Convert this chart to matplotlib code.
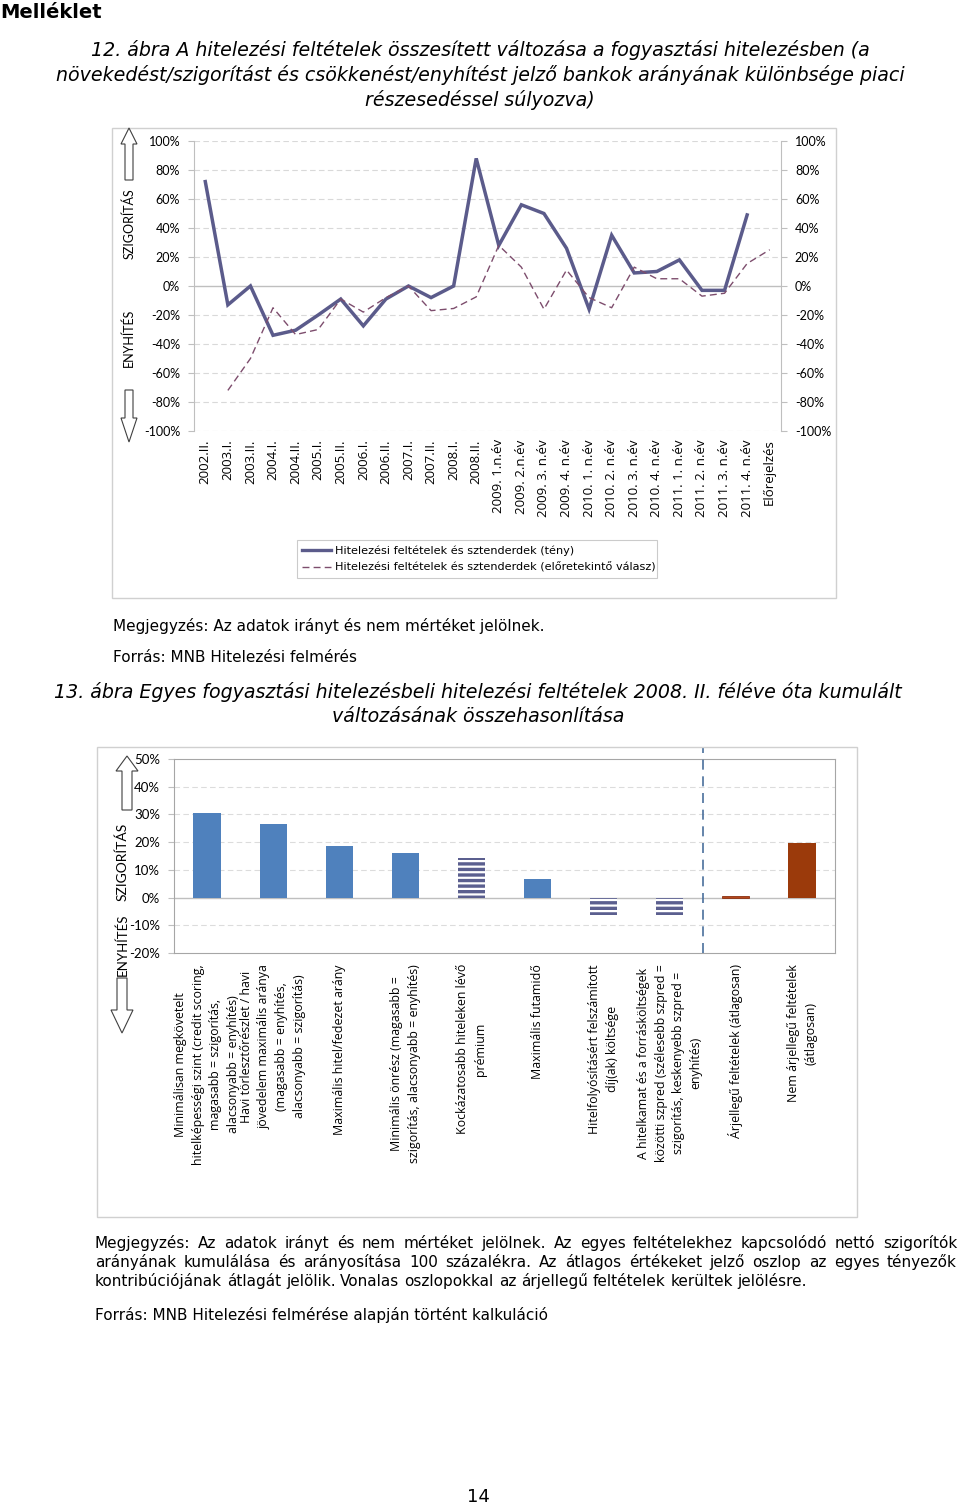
import numpy as np
import matplotlib
matplotlib.use("Agg")
import matplotlib.pyplot as plt
from matplotlib.patches import Polygon, Rectangle
from matplotlib.lines import Line2D

# --- data: chart 12 ---
periods = ["2002.II.", "2003.I.", "2003.II.", "2004.I.", "2004.II.", "2005.I.",
           "2005.II.", "2006.I.", "2006.II.", "2007.I.", "2007.II.", "2008.I.",
           "2008.II.", "2009. 1.n.év", "2009. 2.n.év", "2009. 3. n.év",
           "2009. 4. n.év", "2010. 1. n.év", "2010. 2. n.év", "2010. 3. n.év",
           "2010. 4. n.év", "2011. 1. n.év", "2011. 2. n.év", "2011. 3. n.év",
           "2011. 4. n.év", "Előrejelzés"]
actual = [72, -13, 0, -34, -30.5, -20, -9, -27.5, -9, 0, -8, 0, 88, 28, 56, 50,
          26, -16, 35, 9, 10, 18, -3, -3, 49, np.nan]
expected = [np.nan, -72, -50, -15, -33.5, -30, -9, -18, -8, 0, -17, -15.5, -7.5,
            28, 13, -16, 11, -8, -15, 13, 5, 5, -7, -5, 15.5, 25]
label_actual = "Hitelezési feltételek és sztenderdek (tény)"
label_expected = "Hitelezési feltételek és sztenderdek (előretekintő válasz)"

# --- data: chart 13 ---
conditions = [
    "Minimálisan megkövetelt\nhitelképességi szint (credit scoring,\nmagasabb = szigorítás,\nalacsonyabb = enyhítés)",
    "Havi törlesztőrészlet / havi\njövedelem maximális aránya\n(magasabb = enyhítés,\nalacsonyabb = szigorítás)",
    "Maximális hitel/fedezet arány",
    "Minimális önrész (magasabb =\nszigorítás, alacsonyabb = enyhítés)",
    "Kockázatosabb hiteleken lévő\nprémium",
    "Maximális futamidő",
    "Hitelfolyósításért felszámított\ndíj(ak) költsége",
    "A hitelkamat és a forrásköltségek\nközötti szpred (szélesebb szpred =\nszigorítás, keskenyebb szpred =\nenyhítés)",
    "Árjellegű feltételek (átlagosan)",
    "Nem árjellegű feltételek\n(átlagosan)",
]
cumulative = [30.4, 26.6, 18.7, 16.2, 14.4, 6.6, -6.3, -6.3, 0.6, 19.8]
bar_kind = ["plain", "plain", "plain", "plain", "price", "plain", "price", "price",
            "avg_price", "avg_other"]

W, H = 960, 1507
fig = plt.figure(figsize=(W / 100, H / 100), dpi=100)
plt.rcParams["hatch.linewidth"] = 2.4
BODY = "DejaVu Sans"
CHART = "Lato"
TXT = 11


def fx(x):
    return x / W


def fy(y):
    return 1 - y / H


def box(x0, y0, x1, y1):
    return [x0 / W, 1 - y1 / H, (x1 - x0) / W, (y1 - y0) / H]


def arrow(cx, top, bottom, up, hw=8, sw=4, head=16):
    if up:
        pts = [(cx, top), (cx + hw, top + head), (cx + sw, top + head), (cx + sw, bottom),
               (cx - sw, bottom), (cx - sw, top + head), (cx - hw, top + head)]
    else:
        pts = [(cx, bottom), (cx + hw, bottom - head), (cx + sw, bottom - head), (cx + sw, top),
               (cx - sw, top), (cx - sw, bottom - head), (cx - hw, bottom - head)]
    pts = [(fx(a), fy(b)) for a, b in pts]
    fig.patches.append(Polygon(pts, closed=True, transform=fig.transFigure,
                               facecolor="white", edgecolor="#404040", lw=0.8))


def frame(x0, y0, x1, y1):
    fig.patches.append(Rectangle((fx(x0), fy(y1)), (x1 - x0) / W, (y1 - y0) / H,
                                 transform=fig.transFigure, fill=False,
                                 edgecolor="#d0d0d0", lw=1))


def justified(text, y, x0, x1, size, last=False):
    # lay words out one by one so the line fills x0..x1 (like a justified paragraph)
    words = text.split()
    r = fig.canvas.get_renderer()
    objs = [fig.text(0, fy(y + 4), w, fontsize=size, family=BODY, va="baseline")
            for w in words]
    widths = [o.get_window_extent(r).width for o in objs]
    if last:
        t1 = fig.text(0, 0, "a a", fontsize=size, family=BODY)
        t2 = fig.text(0, 0, "aa", fontsize=size, family=BODY)
        gap = t1.get_window_extent(r).width - t2.get_window_extent(r).width
        t1.remove()
        t2.remove()
    else:
        gap = (x1 - x0 - sum(widths)) / (len(words) - 1)
    x = x0
    for o, w in zip(objs, widths):
        o.set_x(fx(x))
        x += w + gap


# --- headings ---
fig.text(fx(0), fy(12), "Melléklet", fontsize=14, weight="bold", family=BODY, va="center")
fig.text(fx(480), fy(75),
         "12. ábra A hitelezési feltételek összesített változása a fogyasztási hitelezésben (a\n"
         "növekedést/szigorítást és csökkenést/enyhítést jelző bankok arányának különbsége piaci\n"
         "részesedéssel súlyozva)",
         fontsize=13.7, style="italic", family=BODY, ha="center", va="center", linespacing=1.3)

# --- chart 12 ---
frame(112, 128, 836, 598)
ax = fig.add_axes(box(194, 141, 781, 431))
x = np.arange(len(periods))
ax.plot(x, actual, color="#5b5b8b", lw=2.5, solid_joinstyle="miter")
ax.plot(x, expected, color="#7d4d6d", lw=1.0, dashes=(5, 3))
ax.set_xlim(-0.5, len(periods) - 0.5)
ax.set_ylim(-100, 100)
ticks = np.arange(-100, 101, 20)
ax.set_yticks(ticks)
ax.set_yticklabels([f"{t}%" for t in ticks])
ax.yaxis.set_ticks_position("both")
ax.tick_params(axis="y", labelright=True, direction="out", length=4, color="#bfbfbf",
               labelsize=9, pad=6)
for lab in ax.get_yticklabels():
    lab.set_family(CHART)
ax.set_xticks(x)
ax.set_xticklabels(periods, rotation=90, fontsize=9.5, family="Open Sans")
ax.tick_params(axis="x", length=0, pad=6)
for t in ticks:
    if t != 0:
        ax.axhline(t, color="#d9d9d9", lw=0.8, dashes=(5, 3), zorder=0)
ax.axhline(0, color="#bfbfbf", lw=1, zorder=1)
for s in ("top", "bottom"):
    ax.spines[s].set_visible(False)
for s in ("left", "right"):
    ax.spines[s].set_color("#bfbfbf")

arrow(129, 128, 180, up=True)
arrow(129, 390, 442, up=False, head=24)
fig.text(fx(129), fy(224), "SZIGORÍTÁS", rotation=90, fontsize=9, family=CHART,
         ha="center", va="center")
fig.text(fx(129), fy(338), "ENYHÍTÉS", rotation=90, fontsize=9, family=CHART,
         ha="center", va="center")

handles = [Line2D([], [], color="#5b5b8b", lw=2.4),
           Line2D([], [], color="#7d4d6d", lw=1.0, dashes=(5, 3))]
leg = fig.legend(handles, [label_actual, label_expected], loc="upper left",
                 bbox_to_anchor=(fx(297), fy(583), 360 / W, 43 / H), mode="expand",
                 prop={"family": BODY, "size": 8.1}, fancybox=False, edgecolor="#bfbfbf",
                 handlelength=2.6, handletextpad=0.3, borderaxespad=0, labelspacing=0.6,
                 borderpad=0.45)
leg.get_frame().set_linewidth(0.8)

fig.text(fx(113), fy(626), "Megjegyzés: Az adatok irányt és nem mértéket jelölnek.",
         fontsize=TXT, family=BODY, va="center")
fig.text(fx(113), fy(658), "Forrás: MNB Hitelezési felmérés", fontsize=TXT, family=BODY,
         va="center")

fig.text(fx(478), fy(704),
         "13. ábra Egyes fogyasztási hitelezésbeli hitelezési feltételek 2008. II. féléve óta kumulált\n"
         "változásának összehasonlítása",
         fontsize=13.7, style="italic", family=BODY, ha="center", va="center", linespacing=1.3)

# --- chart 13 ---
frame(97, 747, 857, 1217)
ax2 = fig.add_axes(box(174, 759, 835, 953))
xb = np.arange(len(conditions))
styles = {
    "plain": dict(color="#4f81bd"),
    "price": dict(facecolor="white", edgecolor="#5b5f8f", hatch="---", lw=0),
    "avg_price": dict(facecolor="#b5471b", edgecolor="#8a3010", lw=0.6),
    "avg_other": dict(color="#9b3a0b"),
}
for xi, v, k in zip(xb, cumulative, bar_kind):
    ax2.bar(xi, v, width=0.41, zorder=2, **styles[k])
ax2.set_xlim(-0.5, len(conditions) - 0.5)
ax2.set_ylim(-20, 50)
ticks2 = np.arange(-20, 51, 10)
ax2.set_yticks(ticks2)
ax2.set_yticklabels([f"{t}%" for t in ticks2], fontsize=9.5, family=CHART)
ax2.tick_params(axis="y", direction="out", length=4, color="#bfbfbf", pad=6)
for t in ticks2:
    if t not in (-20, 0, 50):
        ax2.axhline(t, color="#dcdcdc", lw=0.8, dashes=(5, 3), zorder=0)
ax2.axhline(0, color="#bfbfbf", lw=1, zorder=1)
for s in ax2.spines.values():
    s.set_color("#a6a6a6")
ax2.axvline(7.5, ymin=0, ymax=1.06, color="#4a6f9c", lw=1.2, dashes=(6, 4),
            clip_on=False, zorder=3)
ax2.set_xticks(xb)
ax2.set_xticklabels(conditions, rotation=90, fontsize=8.9, family="Open Sans",
                    linespacing=1.45)
for lab in ax2.get_xticklabels():
    lab.set_multialignment("center")
ax2.tick_params(axis="x", length=0, pad=8)

arrow(127, 756, 810, up=True, hw=11, sw=5, head=15)
arrow(122, 978, 1033, up=False, hw=11, sw=5, head=23)
fig.text(fx(122), fy(862), "SZIGORÍTÁS", rotation=90, fontsize=10, family=CHART,
         ha="center", va="center")
fig.text(fx(122), fy(945), "ENYHÍTÉS", rotation=90, fontsize=9.5, family=CHART,
         ha="center", va="center")

note2 = [
    "Megjegyzés: Az adatok irányt és nem mértéket jelölnek. Az egyes feltételekhez kapcsolódó nettó szigorítók",
    "arányának kumulálása és arányosítása 100 százalékra. Az átlagos értékeket jelző oszlop az egyes tényezők",
    "kontribúciójának átlagát jelölik. Vonalas oszlopokkal az árjellegű feltételek kerültek jelölésre.",
]
justified(note2[0], 1244, 95, 957, TXT)
justified(note2[1], 1263, 95, 957, TXT)
justified(note2[2], 1282, 95, 957, TXT, last=True)
fig.text(fx(95), fy(1315), "Forrás: MNB Hitelezési felmérése alapján történt kalkuláció",
         fontsize=TXT, family=BODY, va="center")

fig.text(fx(478), fy(1497), "14", fontsize=13, family=BODY, ha="center", va="center")

fig.savefig("out.png", dpi=100)
